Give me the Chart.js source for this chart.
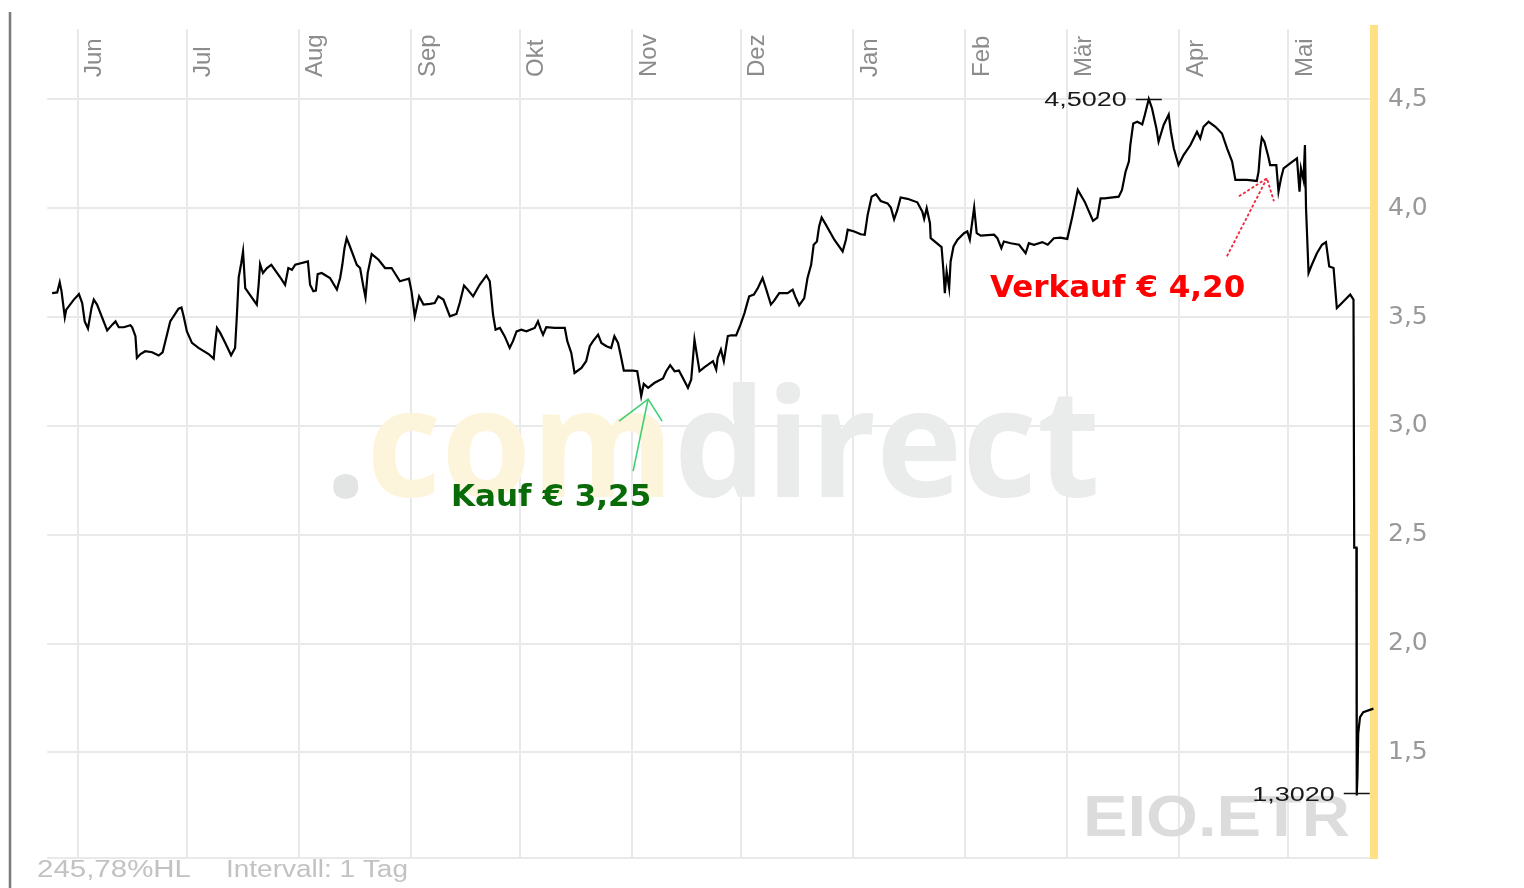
<!DOCTYPE html>
<html lang="de">
<head>
<meta charset="utf-8">
<title>EIO.ETR</title>
<script src="https://cdn.jsdelivr.net/npm/chart.js@4.4.1/dist/chart.umd.min.js"></script>
<style>
  html, body { margin: 0; padding: 0; background: #fff; }
  #wrap { width: 1524px; height: 888px; }
</style>
</head>
<body>
<div id="wrap"><canvas id="kursChart" width="1524" height="888"></canvas></div>
<script>
// Monate (Tag 0 = 1. Juni)
const monthLabels = ["Jun", "Jul", "Aug", "Sep", "Okt", "Nov", "Dez", "Jan", "Feb", "Mär", "Apr", "Mai"];
const monthStartDays = [0, 30, 61, 92, 122, 153, 183, 214, 245, 273, 304, 334];
const yTickValues = [1.5, 2.0, 2.5, 3.0, 3.5, 4.0, 4.5];

// Kursverlauf (Tag seit 1. Juni, Kurs in €)
const tradeDays = [
    -7.1, -5.7, -5.0, -4.5, -3.6, -3.2, -1.1, 0.3, 1.2, 1.9, 2.8, 3.8, 4.4, 5.3, 8.1, 9.5,
    10.4, 11.3, 12.7, 14.5, 15.0, 15.9, 16.3, 17.3, 18.6, 20.5, 22.3, 23.4, 24.6, 25.5, 27.8, 28.6,
    29.2, 30.1, 31.5, 33.3, 36.1, 37.5, 37.9, 38.4, 39.3, 40.7, 42.3, 43.4, 43.9, 44.4, 45.1, 45.6,
    46.2, 49.4, 49.9, 50.3, 51.1, 52.2, 53.4, 56.1, 57.2, 58.1, 59.1, 60.0, 63.5, 64.1, 65.0, 65.7,
    66.2, 67.3, 69.6, 71.5, 72.4, 73.0, 73.6, 74.2, 75.1, 77.0, 77.9, 78.8, 79.4, 80.0, 81.1, 83.0,
    84.8, 86.6, 88.9, 90.3, 91.4, 92.1, 93.0, 93.7, 94.2, 95.4, 97.2, 98.5, 99.5, 100.9, 102.7, 104.5,
    105.4, 106.6, 107.6, 109.1, 110.9, 112.8, 113.7, 114.6, 115.3, 116.5, 117.8, 119.2, 120.1, 121.1, 122.4, 123.8,
    126.1, 127.0, 127.8, 128.4, 129.3, 131.6, 134.4, 135.1, 136.2, 137.1, 139.0, 140.3, 141.3, 142.2, 143.6, 144.5,
    145.9, 147.2, 148.1, 149.1, 149.8, 150.7, 153.2, 154.4, 155.0, 155.5, 156.2, 157.4, 159.2, 161.5, 162.4, 163.5,
    164.7, 165.9, 167.0, 168.4, 169.3, 169.8, 170.2, 170.7, 171.6, 172.9, 175.3, 176.2, 176.6, 177.5, 178.3, 179.4,
    180.3, 181.7, 182.9, 184.0, 184.9, 185.3, 186.6, 187.7, 189.0, 189.9, 191.3, 192.2, 193.6, 195.9, 197.3, 198.0,
    199.1, 200.5, 201.4, 202.4, 203.1, 204.0, 204.6, 205.3, 206.5, 208.8, 211.1, 212.0, 212.5, 214.3, 216.1, 217.2,
    218.0, 219.1, 220.3, 221.6, 223.5, 224.4, 225.3, 226.2, 227.1, 229.0, 231.7, 233.1, 233.6, 234.3, 235.2, 235.4,
    238.4, 238.9, 239.3, 239.8, 240.5, 240.9, 241.7, 242.8, 244.6, 245.5, 246.2, 247.4, 248.1, 249.2, 252.9, 253.8,
    254.9, 255.6, 257.5, 259.8, 261.6, 262.5, 263.9, 266.2, 267.7, 269.4, 271.2, 273.1, 274.5, 276.0, 277.9, 280.2,
    281.4, 282.3, 283.4, 287.3, 288.2, 289.2, 290.1, 290.5, 291.3, 292.4, 293.8, 294.5, 295.6, 296.5, 297.7, 298.3,
    299.7, 301.1, 301.7, 302.5, 303.8, 305.2, 307.1, 308.9, 309.8, 310.7, 312.1, 314.0, 315.8, 317.2, 318.6, 319.5,
    322.7, 325.4, 325.9, 326.4, 326.8, 327.5, 328.6, 329.1, 330.8, 331.4, 332.1, 332.8, 334.6, 336.5, 337.2, 337.6,
    338.3, 338.7, 339.0, 339.7, 340.6, 342.0, 343.4, 344.5, 345.4, 346.6, 347.5, 348.9, 351.2, 352.1, 352.3, 352.9,
    353.0, 353.2, 353.4, 353.9, 354.8, 357.6
];
const closePrices = [
    3.610, 3.613, 3.660, 3.618, 3.499, 3.534, 3.580, 3.605, 3.564, 3.480, 3.447, 3.544, 3.580, 3.557, 3.438, 3.465,
    3.480, 3.453, 3.453, 3.462, 3.453, 3.412, 3.312, 3.330, 3.343, 3.338, 3.323, 3.338, 3.419, 3.480, 3.538, 3.544,
    3.503, 3.434, 3.381, 3.358, 3.330, 3.309, 3.381, 3.450, 3.427, 3.381, 3.324, 3.358, 3.508, 3.682, 3.747, 3.801,
    3.633, 3.557, 3.648, 3.743, 3.702, 3.725, 3.740, 3.676, 3.648, 3.725, 3.717, 3.740, 3.755, 3.648, 3.618, 3.621,
    3.697, 3.702, 3.679, 3.626, 3.679, 3.740, 3.816, 3.862, 3.824, 3.740, 3.725, 3.641, 3.590, 3.702, 3.789, 3.763,
    3.725, 3.725, 3.664, 3.671, 3.676, 3.618, 3.503, 3.557, 3.595, 3.557, 3.560, 3.564, 3.595, 3.580, 3.503, 3.514,
    3.564, 3.645, 3.626, 3.595, 3.648, 3.691, 3.664, 3.511, 3.442, 3.450, 3.412, 3.358, 3.389, 3.434, 3.442, 3.434,
    3.450, 3.480, 3.442, 3.419, 3.453, 3.450, 3.450, 3.389, 3.335, 3.243, 3.266, 3.297, 3.366, 3.389, 3.419, 3.381,
    3.366, 3.358, 3.412, 3.381, 3.328, 3.254, 3.254, 3.251, 3.190, 3.137, 3.193, 3.175, 3.198, 3.218, 3.251, 3.279,
    3.251, 3.254, 3.220, 3.175, 3.213, 3.312, 3.396, 3.343, 3.251, 3.269, 3.297, 3.259, 3.312, 3.351, 3.297, 3.412,
    3.416, 3.416, 3.465, 3.518, 3.572, 3.595, 3.603, 3.633, 3.679, 3.633, 3.557, 3.575, 3.610, 3.610, 3.626, 3.595,
    3.554, 3.587, 3.679, 3.740, 3.832, 3.847, 3.916, 3.957, 3.923, 3.855, 3.801, 3.855, 3.901, 3.893, 3.880, 3.878,
    3.969, 4.053, 4.064, 4.033, 4.022, 4.003, 3.949, 3.992, 4.049, 4.043, 4.027, 3.984, 3.951, 4.000, 3.931, 3.862,
    3.821, 3.717, 3.610, 3.709, 3.633, 3.755, 3.824, 3.855, 3.885, 3.893, 3.855, 4.003, 3.885, 3.874, 3.878, 3.862,
    3.816, 3.847, 3.839, 3.832, 3.793, 3.839, 3.832, 3.844, 3.832, 3.862, 3.865, 3.859, 3.962, 4.084, 4.030, 3.942,
    3.957, 4.045, 4.045, 4.053, 4.084, 4.168, 4.214, 4.290, 4.389, 4.397, 4.385, 4.428, 4.502, 4.458, 4.366, 4.305,
    4.382, 4.430, 4.351, 4.275, 4.198, 4.244, 4.290, 4.351, 4.320, 4.374, 4.397, 4.374, 4.343, 4.275, 4.214, 4.130,
    4.130, 4.125, 4.168, 4.275, 4.324, 4.305, 4.236, 4.198, 4.198, 4.076, 4.137, 4.183, 4.206, 4.229, 4.076, 4.183,
    4.130, 4.290, 4.000, 3.702, 3.740, 3.793, 3.832, 3.844, 3.732, 3.725, 3.541, 3.564, 3.603, 3.580, 2.441, 2.441,
    1.302, 1.395, 1.588, 1.662, 1.685, 1.701
];

// Kauf / Verkauf Markierungen (Tag, Kurs)
const kaufTip = { day: 157.4, price: 3.123 };
const verkaufTip = { day: 328.2, price: 4.137 };

// Achsenbereich
const xMin = -8.46;
const xMax = 357.76;
const yMin = 1.015;
const yMax = 4.823;

Chart.defaults.font.family = '"Liberation Sans", Arial, sans-serif';

function fmtKurs(v, digits) {
    return v.toFixed(digits).replace(".", ",");
}

// Text mit horizontaler Streckung zeichnen (wie im Original-Screenshot)
function drawWide(ctx, text, x, y, font, color, sx, align) {
    ctx.save();
    ctx.font = font;
    ctx.fillStyle = color;
    ctx.textBaseline = "alphabetic";
    ctx.textAlign = "left";
    const w = ctx.measureText(text).width * sx;
    const left = align === "right" ? x - w : x;
    ctx.translate(left, y);
    ctx.scale(sx, 1);
    ctx.fillText(text, 0, 0);
    ctx.restore();
    return w;
}

function drawFit(ctx, text, x, y, font, color, width) {
    ctx.save();
    ctx.font = font;
    const sx = width / ctx.measureText(text).width;
    ctx.restore();
    return drawWide(ctx, text, x, y, font, color, sx, "left");
}

const watermarkPlugin = {
    id: "watermark",
    beforeDatasetsDraw(chart) {
        const ctx = chart.ctx;
        const font = 'bold 150px "Open Sans", sans-serif';
        ctx.save();
        ctx.font = font;
        const sx = 775 / ctx.measureText(".comdirect").width;
        ctx.restore();
        let x = 325;
        [[".", "#e3e5e5"], ["com", "#fdf4dc"], ["direct", "#eaebeb"]].forEach(([t, c]) => {
            x += drawWide(ctx, t, x, 497, font, c, sx, "left");
        });
        drawFit(ctx, "EIO.ETR", 1083, 836, 'bold 57px "Liberation Sans", Arial, sans-serif', "#dcdcdc", 267);
    },
};

const annotationPlugin = {
    id: "kaufVerkauf",
    afterDatasetsDraw(chart) {
        const ctx = chart.ctx;
        const xs = chart.scales.x;
        const ys = chart.scales.y;

        // Hoch / Tief
        let iMax = 0;
        let iMin = 0;
        closePrices.forEach((p, i) => {
            if (p > closePrices[iMax]) iMax = i;
            if (p < closePrices[iMin]) iMin = i;
        });
        [[iMax, 6, 0], [iMin, 7, -3]].forEach(([i, dy, shift]) => {
            const px = xs.getPixelForValue(tradeDays[i]);
            const py = Math.round(ys.getPixelForValue(closePrices[i])) + 0.5 + shift;
            ctx.save();
            ctx.strokeStyle = "#111";
            ctx.lineWidth = 1.5;
            ctx.beginPath();
            ctx.moveTo(px - 13, py);
            ctx.lineTo(px + 13, py);
            ctx.stroke();
            ctx.restore();
            drawWide(ctx, fmtKurs(closePrices[i], 4), px - 22, py + dy,
                '20px "Liberation Sans", Arial, sans-serif', "#1a1a1a", 1.35, "right");
        });

        // Kauf-Pfeil
        const kx = xs.getPixelForValue(kaufTip.day);
        const ky = ys.getPixelForValue(kaufTip.price);
        ctx.save();
        ctx.strokeStyle = "#3fcf72";
        ctx.lineWidth = 1.6;
        ctx.beginPath();
        ctx.moveTo(kx - 15, ky + 72);
        ctx.lineTo(kx, ky);
        ctx.moveTo(kx - 29, ky + 22);
        ctx.lineTo(kx, ky);
        ctx.lineTo(kx + 14, ky + 22);
        ctx.stroke();
        ctx.restore();
        drawWide(ctx, "Kauf € 3,25", kx - 197, ky + 107, 'bold 31px "DejaVu Sans", sans-serif', "#086b08", 1, "left");

        // Verkauf-Pfeil
        const vx = xs.getPixelForValue(verkaufTip.day);
        const vy = ys.getPixelForValue(verkaufTip.price);
        ctx.save();
        ctx.strokeStyle = "#f2283f";
        ctx.lineWidth = 1.8;
        ctx.setLineDash([3, 2]);
        ctx.beginPath();
        ctx.moveTo(vx - 40, vy + 78);
        ctx.lineTo(vx, vy);
        ctx.moveTo(vx - 28, vy + 18);
        ctx.lineTo(vx, vy);
        ctx.lineTo(vx + 7, vy + 23);
        ctx.stroke();
        ctx.restore();
        drawWide(ctx, "Verkauf € 4,20", vx - 277, vy + 119, 'bold 31px "DejaVu Sans", sans-serif', "#ff0000", 1, "left");
    },
    afterDraw(chart) {
        const ctx = chart.ctx;
        // linker Rahmen
        ctx.save();
        ctx.strokeStyle = "#7a7a7a";
        ctx.lineWidth = 2.5;
        ctx.beginPath();
        ctx.moveTo(10, 12);
        ctx.lineTo(10, 888);
        ctx.stroke();
        ctx.restore();
        // Fusszeile
        drawFit(ctx, "245,78%HL", 37, 877, '23px "Liberation Sans", Arial, sans-serif', "#c2c2c2", 154);
        drawFit(ctx, "Intervall: 1 Tag", 226, 877, '23px "Liberation Sans", Arial, sans-serif', "#c2c2c2", 182);
    },
};

document.addEventListener("DOMContentLoaded", function () {
    const ctx = document.getElementById("kursChart").getContext("2d");

    new Chart(ctx, {
        type: "line",
        data: {
            datasets: [
                {
                    label: "EIO.ETR",
                    data: tradeDays.map((d, i) => ({ x: d, y: closePrices[i] })),
                    borderColor: "#000",
                    borderWidth: 2.2,
                    pointRadius: 0,
                    tension: 0,
                    fill: false,
                },
            ],
        },
        options: {
            responsive: false,
            animation: false,
            layout: { padding: { left: 45, top: 0, right: 0, bottom: 30 } },
            plugins: {
                legend: { display: false },
                tooltip: { enabled: false },
            },
            scales: {
                x: {
                    type: "linear",
                    position: "top",
                    min: xMin,
                    max: xMax,
                    afterBuildTicks: (scale) => {
                        scale.ticks = monthStartDays.map((v) => ({ value: v }));
                    },
                    afterFit: (scale) => {
                        scale.height = 27;
                    },
                    grid: { color: "#e9e9e9", lineWidth: 2, drawTicks: false },
                    border: { display: false },
                    ticks: {
                        autoSkip: false,
                        minRotation: 90,
                        maxRotation: 90,
                        mirror: true,
                        padding: 48,
                        labelOffset: 17,
                        color: "#8c8c8c",
                        font: { size: 24 },
                        callback: (value, index) => monthLabels[index],
                    },
                },
                y: {
                    position: "right",
                    min: yMin,
                    max: yMax,
                    afterBuildTicks: (scale) => {
                        scale.ticks = [yMin, ...yTickValues].map((v) => ({ value: v }));
                    },
                    afterFit: (scale) => {
                        scale.width = 150;
                    },
                    grid: { color: "#e9e9e9", lineWidth: 2, drawTicks: false },
                    border: { display: true, color: "#ffe083", width: 8 },
                    ticks: {
                        padding: 14,
                        color: "#999",
                        font: { family: '"DejaVu Sans", sans-serif', size: 25 },
                        callback: (value) => (value === yMin ? "" : fmtKurs(value, 1)),
                    },
                },
            },
        },
        plugins: [watermarkPlugin, annotationPlugin],
    });
});
</script>
</body>
</html>
